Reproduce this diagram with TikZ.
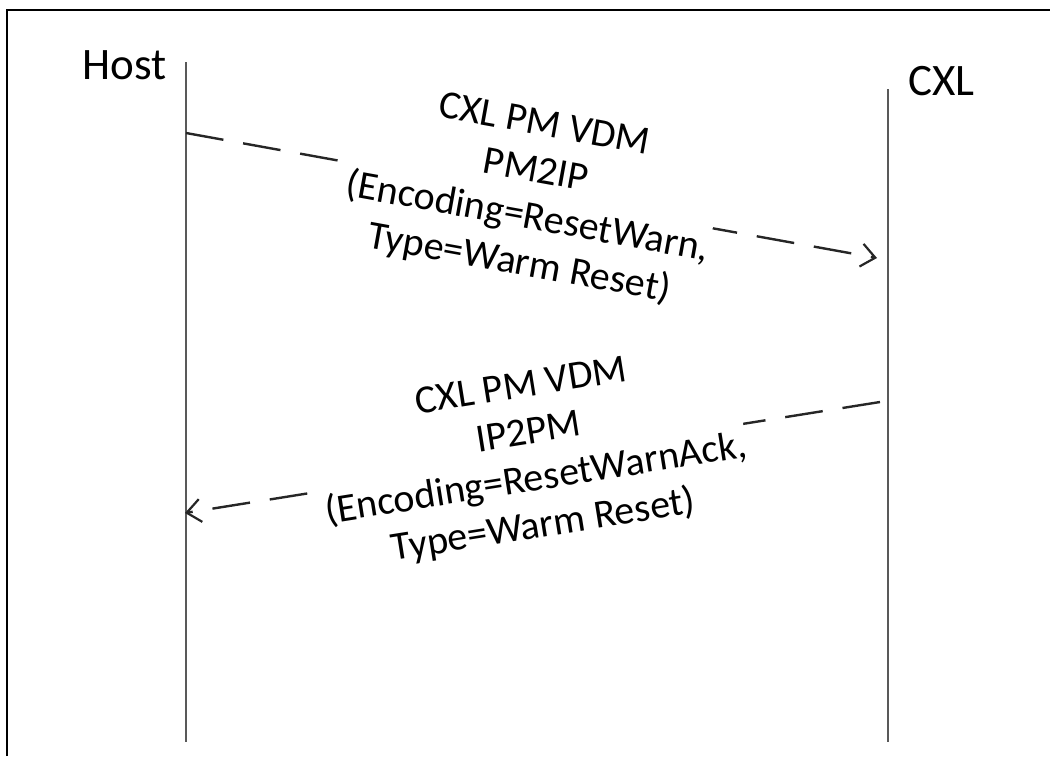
\documentclass[tikz,border=0pt]{standalone}
\usepackage{fontspec}
\setmainfont{Carlito}
\usetikzlibrary{arrows.meta}
\begin{document}
\begin{tikzpicture}[x=1pt,y=-1pt,
  lifeline/.style={draw=black!65,line width=2.8pt},
  msg/.style={draw=black!85,line width=2.4pt,dash pattern=on 38pt off 20pt,
    -{Straight Barb[length=14pt,width=23pt,line width=2.2pt]}},
  msglabel/.style={sloped,fill=white,inner sep=0pt,align=center,
    font=\fontsize{40}{47}\selectfont},
  actor/.style={anchor=base,inner sep=0pt,font=\fontsize{45}{54}\selectfont},
  frame/.style={draw=black,line width=1.8pt}]
\useasboundingbox (0,0) rectangle (1050,756);
\draw[frame] (7,756) -- (7,10) -- (1050,10);
% actors
\node[actor] (host) at (124.5,79) {Host};
\node[actor] (cxl) at (941.5,95) {CXL};
% lifelines
\coordinate (hostTop) at (186,62);
\coordinate (hostBot) at (186,742);
\coordinate (cxlTop) at (888,89);
\coordinate (cxlBot) at (888,742);
\draw[lifeline] (hostTop) -- (hostBot);
\draw[lifeline] (cxlTop) -- (cxlBot);
% message endpoints
\coordinate (m1s) at (186,133);
\coordinate (m1e) at (877,258);
\coordinate (m2s) at (880,402);
\coordinate (m2e) at (185,513);
\draw[msg] (m1s) -- node[msglabel] (l1) {CXL PM VDM\\PM2IP\\(Encoding=ResetWarn,\\Type=Warm Reset)} (m1e);
\draw[msg] (m2s) -- node[msglabel] (l2) {CXL PM VDM\\IP2PM\\(Encoding=ResetWarnAck,\\Type=Warm Reset)} (m2e);
\end{tikzpicture}
\end{document}
